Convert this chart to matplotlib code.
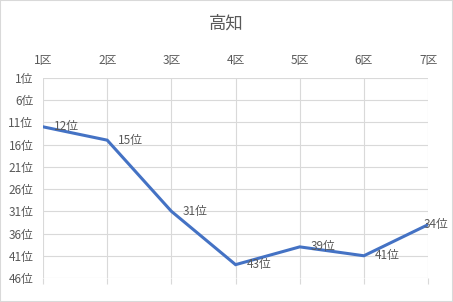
import matplotlib.pyplot as plt
from matplotlib.patches import Rectangle

plt.rcParams['font.family'] = ['Noto Sans CJK JP', 'DejaVu Sans']

title = "高知"
districts = ["1区", "2区", "3区", "4区", "5区", "6区", "7区"]
ranks = [12, 15, 31, 43, 39, 41, 34]
y_ticks = [1, 6, 11, 16, 21, 26, 31, 36, 41, 46]

LINE = "#4472C4"
TEXT = "#595959"
GRID = "#D9D9D9"

fig = plt.figure(figsize=(4.53, 3.02), dpi=100)
ax = fig.add_axes([0.095, 0.0795, 0.85, 0.6625])

x = list(range(len(districts)))
ax.plot(x, ranks, color=LINE, linewidth=2.2, solid_joinstyle="miter", zorder=3)
for i, (xi, r) in enumerate(zip(x, ranks)):
    # last label is pulled back inside the chart, as in the source
    dx = -3 if i == len(x) - 1 else 8
    ax.annotate(f"{r}位", (xi, r), xytext=(dx, 0), textcoords="offset points",
                ha="left", va="center", fontsize=8.5, color=TEXT, zorder=4)

ax.set_xlim(0, len(districts) - 1)
ax.set_ylim(46, 1)
ax.set_xticks(x)
ax.set_xticklabels(districts)
ax.set_yticks(y_ticks)
ax.set_yticklabels([f"{v}位" for v in y_ticks])
ax.xaxis.set_ticks_position("bottom")
ax.tick_params(axis="x", bottom=True, top=False, labelbottom=False, labeltop=True,
               length=4, width=0.8, color=GRID, pad=4, labelsize=8.5, labelcolor=TEXT)
ax.tick_params(axis="y", length=0, pad=7, labelsize=8.5, labelcolor=TEXT)
ax.grid(True, color=GRID, linewidth=0.8)
ax.set_axisbelow(True)
for s in ax.spines.values():
    s.set_visible(False)

fig.text(0.5, 0.922, title, ha="center", va="center", fontsize=12.5, color=TEXT)
fig.patches.append(Rectangle((0, 0), 1, 1, transform=fig.transFigure, fill=False,
                             edgecolor=GRID, linewidth=1.5))

fig.savefig("out.png", dpi=100)
